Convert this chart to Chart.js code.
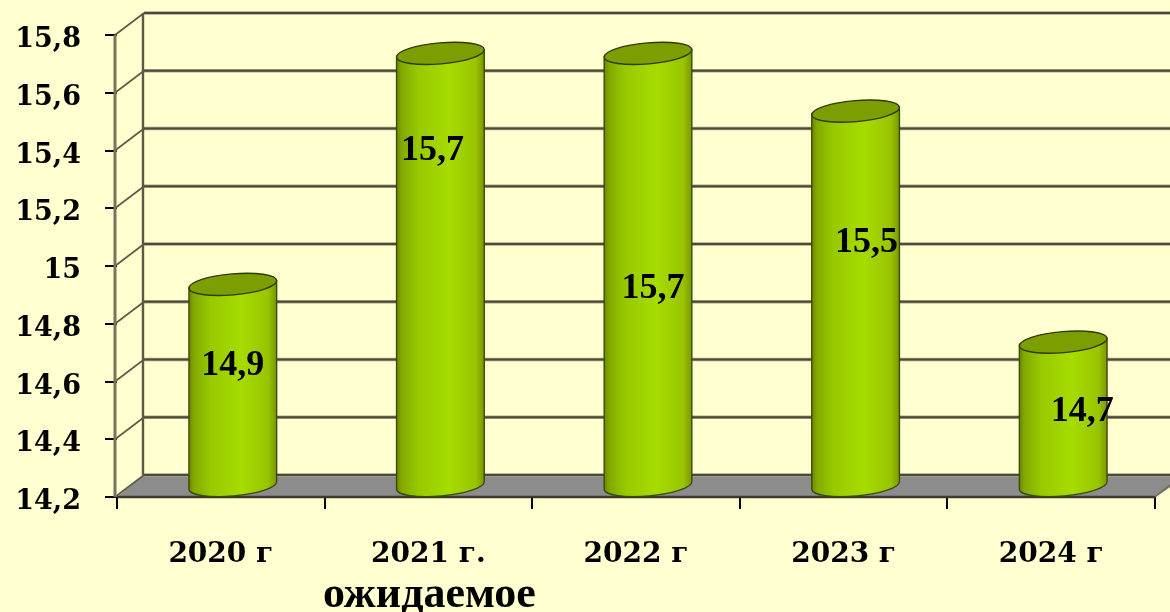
<!DOCTYPE html>
<html><head><meta charset="utf-8">
<style>html,body{margin:0;padding:0;background:#FFFFCF}canvas{display:block}</style>
<script src="https://cdn.jsdelivr.net/npm/chart.js@4"></script></head>
<body><canvas id="c" width="1170" height="612"></canvas>
<script>
const categories = ['2020 г', '2021 г.', '2022 г', '2023 г', '2024 г'];
const subLabels = ['', 'ожидаемое', '', '', ''];
const values = [14.9, 15.7, 15.7, 15.5, 14.7];
const valueLabels = ['14,9', '15,7', '15,7', '15,5', '14,7'];
const labelShiftX = [0, -8, 5, 11, 19];
const labelShiftY = [-19, -119, 19, -56, -2];
const yMin = 14.2, yMax = 15.8, yStep = 0.2;

const DEPTH_X = 27, DEPTH_Y = -22, BAR_X = 12, BAR_Y = -10.5, RX = 44, RY = 10.5, TILT = -5 * Math.PI / 180;
const SERIF = '"Liberation Serif"', TICKSERIF = '"DejaVu Serif"';

Chart.BarElement.prototype.draw = function (ctx) {
  const cx = this.x + BAR_X, top = this.y + BAR_Y, base = this.base + BAR_Y;
  const g = ctx.createLinearGradient(cx - RX, 0, cx + RX, 0);
  g.addColorStop(0, '#6a8600'); g.addColorStop(0.06, '#83a900'); g.addColorStop(0.25, '#98ca00');
  g.addColorStop(0.6, '#a6dc00'); g.addColorStop(0.9, '#98c400'); g.addColorStop(1, '#7a9800');
  const dx = RX * Math.cos(TILT), dy = RX * Math.sin(TILT);
  ctx.save();
  ctx.beginPath();
  ctx.moveTo(cx - dx, top - dy);
  ctx.lineTo(cx - dx, base - dy);
  ctx.ellipse(cx, base, RX, RY, TILT, Math.PI, 0, true);
  ctx.lineTo(cx + dx, top + dy);
  ctx.closePath();
  ctx.fillStyle = g; ctx.fill();
  ctx.strokeStyle = '#3c4a08'; ctx.lineWidth = 1.4; ctx.stroke();
  ctx.beginPath();
  ctx.ellipse(cx, top, RX, RY, TILT, 0, Math.PI * 2);
  ctx.fillStyle = '#7c9e00'; ctx.fill();
  ctx.strokeStyle = '#2f3a06'; ctx.lineWidth = 1.4; ctx.stroke();
  ctx.restore();
};

const walls = {
  id: 'walls',
  beforeDatasetsDraw(chart) {
    const { ctx, chartArea: a, scales: { y } } = chart;
    const line = (x1, y1, x2, y2, w, col) => {
      ctx.beginPath(); ctx.moveTo(x1, y1); ctx.lineTo(x2, y2);
      ctx.lineWidth = w; ctx.strokeStyle = col; ctx.stroke();
    };
    ctx.save();
    ctx.beginPath();
    ctx.moveTo(a.left, a.bottom); ctx.lineTo(a.left + DEPTH_X, a.bottom + DEPTH_Y);
    ctx.lineTo(1190, a.bottom + DEPTH_Y); ctx.lineTo(a.right, a.bottom); ctx.closePath();
    ctx.fillStyle = '#8c8c8c'; ctx.fill();
    y.ticks.forEach(t => {
      const py = y.getPixelForValue(t.value);
      line(a.left + DEPTH_X, py + DEPTH_Y, 1170, py + DEPTH_Y, 3.4, '#a5a58a');
      line(a.left + DEPTH_X, py + DEPTH_Y, 1170, py + DEPTH_Y, 2, '#4a4a36');
      line(a.left - 2, py, a.left + DEPTH_X, py + DEPTH_Y, 1.6, '#5a5a44');
    });
    line(a.left + DEPTH_X - 1, a.top + DEPTH_Y, a.left + DEPTH_X - 1, a.bottom + DEPTH_Y, 2.4, '#5a5a44');
    line(a.left - 2, a.top, a.left - 2, a.bottom, 3, '#76765c');
    line(a.left, a.bottom, a.right, a.bottom, 2.4, '#3a3a30');
    line(a.right, a.bottom, 1170, a.bottom - 12, 1.6, '#6a6a50');
    ctx.restore();
  },
  afterDatasetsDraw(chart) {
    const { ctx, scales: { x } } = chart;
    const meta = chart.getDatasetMeta(0);
    ctx.save();
    ctx.fillStyle = '#000'; ctx.textAlign = 'center'; ctx.textBaseline = 'middle';
    ctx.font = 'bold 36px ' + SERIF;
    meta.data.forEach((bar, i) => {
      const mid = (bar.y + bar.base) / 2 + BAR_Y;
      ctx.fillText(valueLabels[i], bar.x + BAR_X + labelShiftX[i], mid + labelShiftY[i]);
    });
    ctx.font = 'bold 44px ' + SERIF;
    subLabels.forEach((s, i) => { if (s) ctx.fillText(s, x.getPixelForValue(i) + 1, 596); });
    ctx.restore();
  }
};

new Chart(document.getElementById('c'), {
  type: 'bar',
  data: { labels: categories, datasets: [{ data: values, base: yMin, barThickness: 88, backgroundColor: '#9ccf00', clip: false }] },
  plugins: [walls],
  options: {
    responsive: false, animation: false,
    layout: { padding: { top: 35, right: 15, left: 0, bottom: 0 } },
    plugins: { legend: { display: false }, tooltip: { enabled: false } },
    scales: {
      x: {
        afterFit(s) { s.height = 115; s.paddingLeft = 0; s.paddingRight = 0; },
        grid: { display: true, drawOnChartArea: false, drawTicks: true, tickLength: 12, color: '#000', lineWidth: 2 },
        border: { display: false },
        ticks: { padding: 29, maxRotation: 0, color: '#000', font: { family: TICKSERIF, weight: 'bold', size: 28 } }
      },
      y: {
        min: yMin, max: yMax,
        afterFit(s) { s.width = 117; s.paddingTop = 0; s.paddingBottom = 0; },
        grid: { display: true, drawOnChartArea: false, drawTicks: true, tickLength: 12, color: '#000', lineWidth: 2 },
        border: { display: false },
        ticks: {
          stepSize: yStep, padding: 24, labelOffset: 5, color: '#000', font: { family: TICKSERIF, weight: 'bold', size: 27 },
          callback: v => String(Math.round(v * 10) / 10).replace('.', ',')
        }
      }
    }
  }
});
</script></body></html>
